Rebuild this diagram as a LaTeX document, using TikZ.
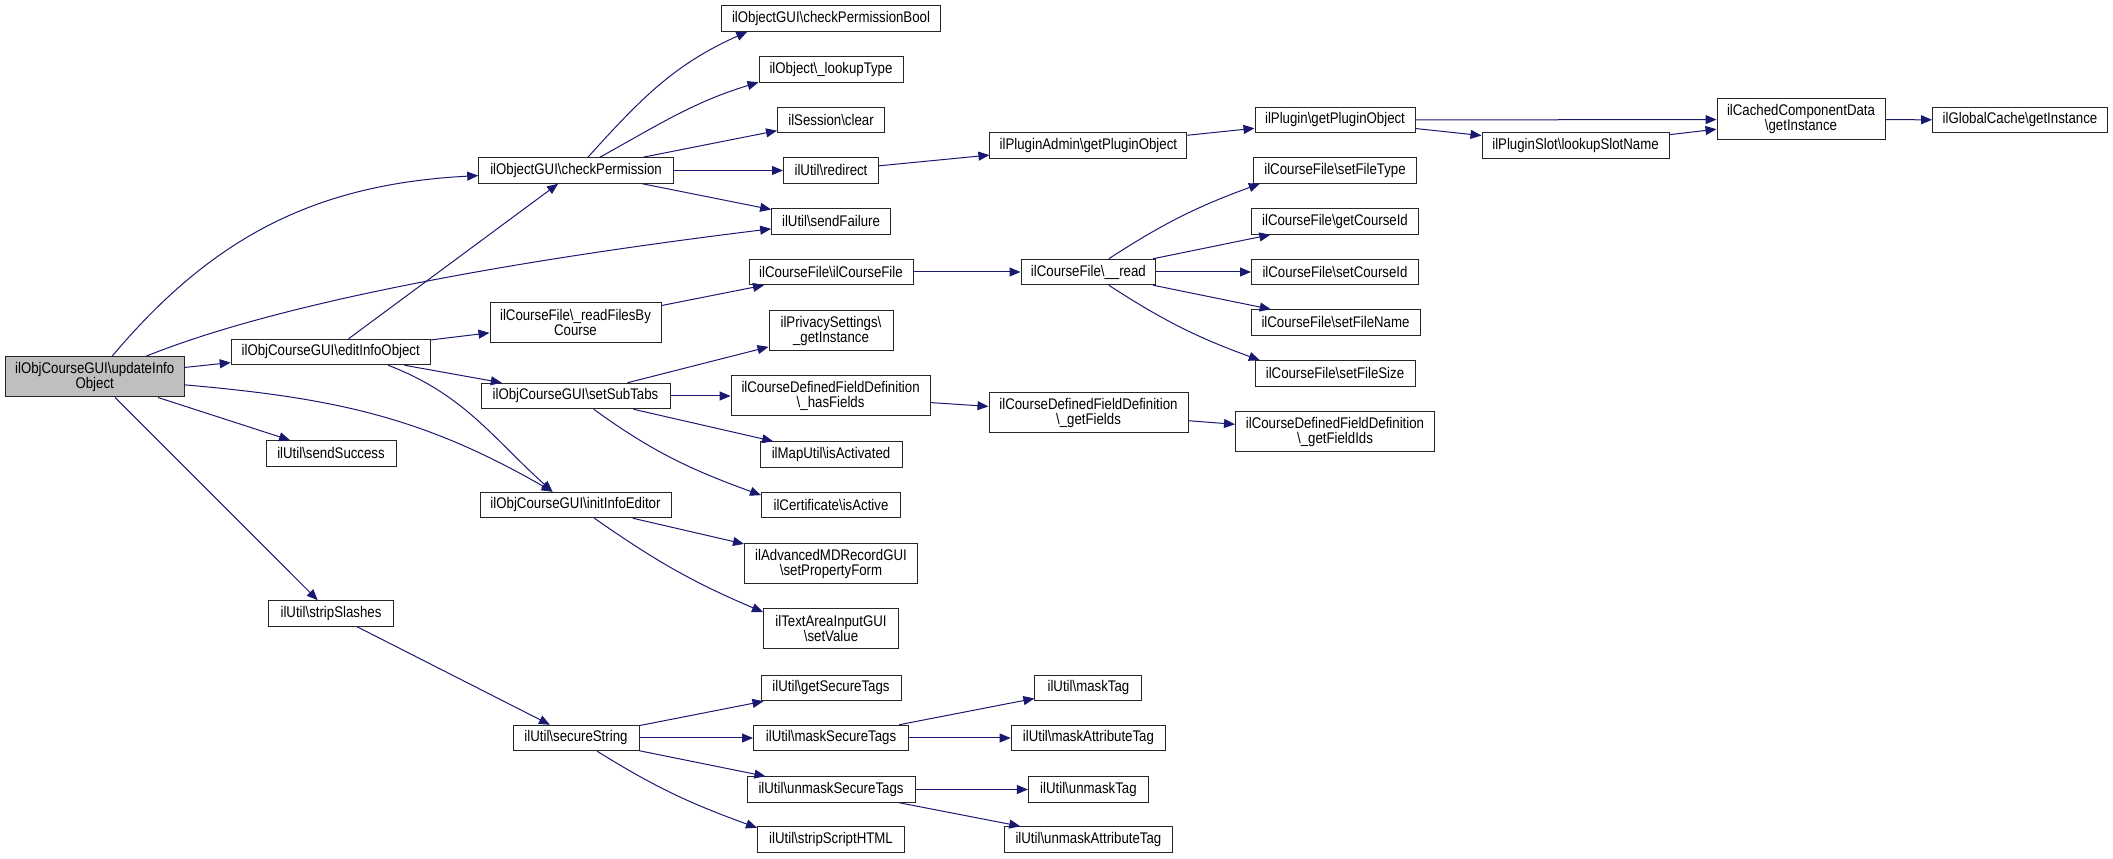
\documentclass[tikz,border=0pt]{standalone}
\usepackage{fontspec}
\setmainfont[FakeStretch=0.86]{Liberation Sans}
\usetikzlibrary{arrows.meta}
\definecolor{edgec}{RGB}{25,25,112}
\definecolor{ufill}{RGB}{191,191,191}
\newcommand{\bsl}{\textbackslash}
\begin{document}
\begin{tikzpicture}[x=1pt,y=1pt,
  box/.style={draw=black!85, line width=1pt, fill=white, inner sep=0pt, align=center,
    minimum height=25.5pt, font=\fontsize{15.4}{15}\selectfont},
  dbl/.style={box, minimum height=40pt},
  edge/.style={draw=edgec, line width=1pt, -{Triangle[length=11pt,width=9pt]}}]
\useasboundingbox (0,0) rectangle (2113,859);
% column 1
\node[dbl,fill=ufill,minimum width=178.6pt] (U) at (94.7,482) {ilObjCourseGUI\bsl{}updateInfo\\Object};
% column 2
\node[box,minimum width=199pt] (E) at (330.7,507) {ilObjCourseGUI\bsl{}editInfoObject};
\node[box,minimum width=130pt] (SSucc) at (331,405.5) {ilUtil\bsl{}sendSuccess};
\node[box,minimum width=124.5pt] (SSl) at (331,245.5) {ilUtil\bsl{}stripSlashes};
% column 3
\node[box,minimum width=194.6pt] (C) at (576,688.5) {ilObjectGUI\bsl{}checkPermission};
\node[dbl,minimum width=171pt] (RF) at (575.5,536.5) {ilCourseFile\bsl\_readFilesBy\\Course};
\node[box,minimum width=189pt] (S) at (575.5,463) {ilObjCourseGUI\bsl{}setSubTabs};
\node[box,minimum width=191pt] (IE) at (575.5,354) {ilObjCourseGUI\bsl{}initInfoEditor};
\node[box,minimum width=126pt] (SS) at (576,121) {ilUtil\bsl{}secureString};
% column 4
\node[box,minimum width=219.6pt] (CPB) at (831,840.5) {ilObjectGUI\bsl{}checkPermissionBool};
\node[box,minimum width=144pt] (LT) at (831,789.5) {ilObject\bsl\_lookupType};
\node[box,minimum width=107pt] (SC) at (831,739) {ilSession\bsl{}clear};
\node[box,minimum width=95pt] (RD) at (831,688.5) {ilUtil\bsl{}redirect};
\node[box,minimum width=118.7pt] (SF) at (831,637.5) {ilUtil\bsl{}sendFailure};
\node[box,minimum width=164pt] (CF) at (831,587) {ilCourseFile\bsl{}ilCourseFile};
\node[dbl,minimum width=124pt] (PS) at (831,528) {ilPrivacySettings\bsl\\\_getInstance};
\node[dbl,minimum width=199pt] (HF) at (830.6,463) {ilCourseDefinedFieldDefinition\\\bsl\_hasFields};
\node[box,minimum width=142pt] (MU) at (831,404.5) {ilMapUtil\bsl{}isActivated};
\node[box,minimum width=139pt] (CT) at (831,354) {ilCertificate\bsl{}isActive};
\node[dbl,minimum width=173pt] (AM) at (831,295) {ilAdvancedMDRecordGUI\\\bsl{}setPropertyForm};
\node[dbl,minimum width=135pt] (TA) at (831,230) {ilTextAreaInputGUI\\\bsl{}setValue};
\node[box,minimum width=140pt] (GST) at (831,171) {ilUtil\bsl{}getSecureTags};
\node[box,minimum width=155pt] (MST) at (831,121) {ilUtil\bsl{}maskSecureTags};
\node[box,minimum width=168pt] (UST) at (831,69.5) {ilUtil\bsl{}unmaskSecureTags};
\node[box,minimum width=147pt] (SSH) at (831,19.5) {ilUtil\bsl{}stripScriptHTML};
% column 5
\node[box,minimum width=197pt] (PA) at (1088.4,713.5) {ilPluginAdmin\bsl{}getPluginObject};
\node[box,minimum width=134.8pt] (RD2) at (1088.4,587) {ilCourseFile\bsl\_\_read};
\node[dbl,minimum width=199pt] (GF) at (1088.5,446) {ilCourseDefinedFieldDefinition\\\bsl\_getFields};
\node[box,minimum width=107pt] (MT) at (1088.4,171) {ilUtil\bsl{}maskTag};
\node[box,minimum width=154.5pt] (MAT) at (1088.4,121) {ilUtil\bsl{}maskAttributeTag};
\node[box,minimum width=120pt] (UT) at (1088.4,69.5) {ilUtil\bsl{}unmaskTag};
\node[box,minimum width=168.8pt] (UAT) at (1088.4,19.5) {ilUtil\bsl{}unmaskAttributeTag};
% column 6
\node[box,minimum width=160pt] (PO) at (1335,739) {ilPlugin\bsl{}getPluginObject};
\node[box,minimum width=163pt] (FT) at (1335,688.5) {ilCourseFile\bsl{}setFileType};
\node[box,minimum width=167pt] (GCI) at (1335,637.5) {ilCourseFile\bsl{}getCourseId};
\node[box,minimum width=167pt] (SCI) at (1335,587) {ilCourseFile\bsl{}setCourseId};
\node[box,minimum width=169pt] (FN) at (1335.5,536.5) {ilCourseFile\bsl{}setFileName};
\node[box,minimum width=160pt] (FS) at (1335,485.5) {ilCourseFile\bsl{}setFileSize};
\node[dbl,minimum width=199pt] (GFI) at (1335,427) {ilCourseDefinedFieldDefinition\\\bsl\_getFieldIds};
% columns 7-9
\node[box,minimum width=187pt] (LSN) at (1575.5,713.5) {ilPluginSlot\bsl{}lookupSlotName};
\node[dbl,minimum width=168pt,minimum height=41pt] (CCD) at (1801,739.5) {ilCachedComponentData\\\bsl{}getInstance};
\node[box,minimum width=175pt] (GC) at (2020,739) {ilGlobalCache\bsl{}getInstance};
% edges from updateInfoObject
\draw[edge] (U) to[out=50,in=183] (C);
\draw[edge] (U) to[out=22,in=187,looseness=0.7] (SF);
\draw[edge] (U) -- (E);
\draw[edge] (U) to[out=-5,in=150] (IE);
\draw[edge] (U) -- (SSucc);
\draw[edge] (U) -- (SSl);
% edges from editInfoObject
\draw[edge] (E) -- (C);
\draw[edge] (E) -- (RF);
\draw[edge] (E) -- (S);
\draw[edge] (E.-13) to[out=-21,in=138] (IE.150);
% edges from checkPermission
\draw[edge] (C) to[out=48,in=204] (CPB.189);
\draw[edge] (C) to[out=29,in=197] (LT.190);
\draw[edge] (C) -- (SC);
\draw[edge] (C) -- (RD);
\draw[edge] (C) -- (SF);
\draw[edge] (RD) -- (PA);
\draw[edge] (PA) -- (PO);
\draw[edge] (PO) -- (CCD);
\draw[edge] (PO) -- (LSN);
\draw[edge] (LSN) -- (CCD);
\draw[edge] (CCD) -- (GC);
% course file
\draw[edge] (RF) -- (CF);
\draw[edge] (CF) -- (RD2);
\draw[edge] (RD2) to[out=33,in=200] (FT.190);
\draw[edge] (RD2) -- (GCI);
\draw[edge] (RD2) -- (SCI);
\draw[edge] (RD2) -- (FN);
\draw[edge] (RD2) to[out=-33,in=160] (FS.170);
% setSubTabs
\draw[edge] (S) -- (PS);
\draw[edge] (S) -- (HF);
\draw[edge] (S) -- (MU);
\draw[edge] (S) to[out=-36,in=160] (CT.172);
\draw[edge] (HF) -- (GF);
\draw[edge] (GF) -- (GFI);
% initInfoEditor
\draw[edge] (IE) -- (AM);
\draw[edge] (IE) to[out=-35,in=157] (TA.166);
% strip / secure
\draw[edge] (SSl) -- (SS);
\draw[edge] (SS) -- (GST);
\draw[edge] (SS) -- (MST);
\draw[edge] (SS) -- (UST);
\draw[edge] (SS) to[out=-32,in=160] (SSH.171);
\draw[edge] (MST) -- (MT);
\draw[edge] (MST) -- (MAT);
\draw[edge] (UST) -- (UT);
\draw[edge] (UST) -- (UAT);
\end{tikzpicture}
\end{document}
